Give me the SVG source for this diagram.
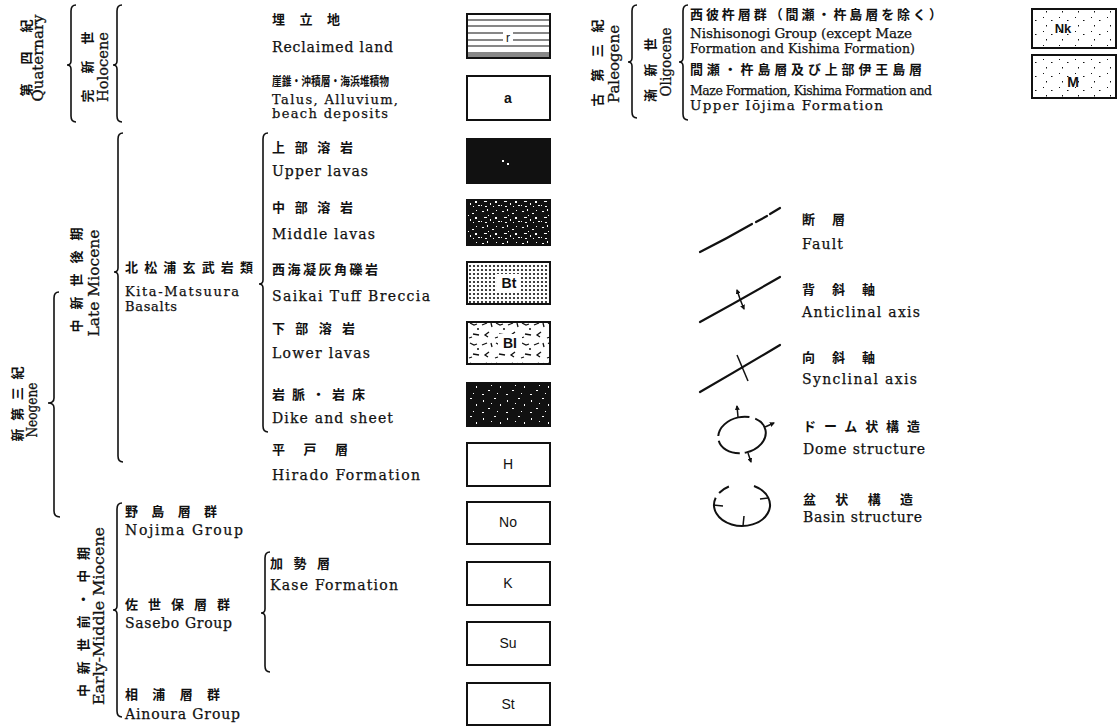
<svg xmlns="http://www.w3.org/2000/svg" width="1120" height="727" viewBox="0 0 1120 727">
<style>
.en{font-family:"DejaVu Serif","Liberation Serif",serif;font-size:14px;fill:#111;stroke:#111;stroke-width:0.25}
.es{font-size:13px}
.er{font-family:"DejaVu Serif","Liberation Serif",serif;font-size:14.5px;fill:#111;stroke:#111;stroke-width:0.3}
.enr{font-family:"DejaVu Serif","Liberation Serif",serif;font-size:13.5px;fill:#111;stroke:#111;stroke-width:0.25}
.jp{font-family:"Noto Sans CJK JP","Noto Sans CJK SC",sans-serif;font-weight:bold;font-size:13px;fill:#111}
.lb{font-family:"Liberation Sans",Arial,sans-serif;font-size:14px;fill:#111;text-anchor:middle}
.lbb{font-family:"Liberation Sans",Arial,sans-serif;font-size:14px;font-weight:bold;fill:#111;text-anchor:middle}
.box{stroke:#111;stroke-width:2}
.br{fill:none;stroke:#111;stroke-width:1.6}
.sym{fill:none;stroke:#111;stroke-width:2.2;stroke-linecap:round}
.tk{fill:none;stroke:#111;stroke-width:1.5}
</style>
<defs>
<marker id="ah" markerWidth="5" markerHeight="5" refX="4" refY="2.5" orient="auto" markerUnits="userSpaceOnUse"><path d="M0,0 L5,2.5 L0,5 z" fill="#111"/></marker>
<pattern id="pMid" width="20" height="16" patternUnits="userSpaceOnUse">
<rect width="20" height="16" fill="#111"/>
<g fill="#fff"><rect x="2" y="3" width="2" height="1"/><rect x="7" y="1" width="1" height="2"/><rect x="12" y="5" width="2" height="1"/><rect x="16" y="2" width="1" height="1"/><rect x="4" y="9" width="3" height="1"/><rect x="10" y="11" width="1" height="2"/><rect x="15" y="9" width="2" height="2"/><rect x="1" y="13" width="1" height="1"/><rect x="8" y="7" width="1" height="1"/><rect x="18" y="13" width="2" height="1"/><rect x="13" y="14" width="1" height="1"/><rect x="5" y="14" width="2" height="1"/></g>
</pattern>
<pattern id="pDike" width="24" height="18" patternUnits="userSpaceOnUse">
<rect width="24" height="18" fill="#111"/>
<g fill="#fff"><rect x="3" y="4" width="1" height="2"/><rect x="14" y="2" width="2" height="1"/><rect x="20" y="8" width="1" height="2"/><rect x="8" y="12" width="2" height="1"/><rect x="17" y="15" width="1" height="1"/><rect x="2" y="16" width="2" height="1"/><rect x="11" y="7" width="1" height="1"/></g>
</pattern>
<pattern id="pDot" width="4" height="4" patternUnits="userSpaceOnUse">
<rect width="4" height="4" fill="#fff"/><circle cx="2" cy="2" r="1.1" fill="#111"/>
</pattern>
<pattern id="pBlot" width="26" height="20" patternUnits="userSpaceOnUse">
<rect width="26" height="20" fill="#fff"/>
<g fill="none" stroke="#111" stroke-width="1.3"><path d="M2,3 l4,2 l3,-1"/><path d="M14,5 l5,-2"/><path d="M21,12 l-4,3 l3,2"/><path d="M5,14 l6,1"/><path d="M23,3 l1,4"/><path d="M9,9 l2,0"/><path d="M1,18 l3,-1"/></g>
</pattern>
<pattern id="pSparse" width="16" height="14" patternUnits="userSpaceOnUse">
<rect width="16" height="14" fill="#fff"/><g fill="#111"><rect x="3" y="3" width="1" height="1"/><rect x="11" y="6" width="1.5" height="1"/><rect x="6" y="11" width="1" height="1.5"/></g>
</pattern>
</defs>
<rect width="1120" height="727" fill="#fff"/>

<g id="period-labels">
<text class="jp" dominant-baseline="central" transform="translate(25,58) rotate(-90)" x="-38.5" textLength="77">第 四 紀</text>
<text class="er" transform="translate(43,58) rotate(-90)" x="-43.5" textLength="87" lengthAdjust="spacingAndGlyphs">Quaternary</text>
<text class="jp" dominant-baseline="central" transform="translate(86,67) rotate(-90)" x="-35.5" textLength="71">完 新 世</text>
<text class="er" transform="translate(108,67) rotate(-90)" x="-35" textLength="70" lengthAdjust="spacingAndGlyphs">Holocene</text>
<text class="jp" dominant-baseline="central" transform="translate(75,280) rotate(-90)" x="-52.5" textLength="105">中 新 世 後 期</text>
<text class="er" transform="translate(99,283) rotate(-90)" x="-53.5" textLength="107" lengthAdjust="spacingAndGlyphs">Late Miocene</text>
<text class="jp" dominant-baseline="central" transform="translate(16,404) rotate(-90)" x="-37.5" textLength="75">新 第 三 紀</text>
<text class="er" transform="translate(37,410) rotate(-90)" x="-27.5" textLength="55" lengthAdjust="spacingAndGlyphs">Neogene</text>
<text class="jp" dominant-baseline="central" transform="translate(82,622) rotate(-90)" x="-75" textLength="150">中新世前・中期</text>
<text class="er" transform="translate(104,616) rotate(-90)" x="-89" textLength="178" lengthAdjust="spacingAndGlyphs">Early-Middle Miocene</text>
<text class="jp" dominant-baseline="central" transform="translate(596,63) rotate(-90)" x="-43.5" textLength="87">古 第 三 紀</text>
<text class="er" transform="translate(619,64) rotate(-90)" x="-39" textLength="78" lengthAdjust="spacingAndGlyphs">Paleogene</text>
<text class="jp" dominant-baseline="central" transform="translate(649,70) rotate(-90)" x="-32" textLength="64">漸 新 世</text>
<text class="er" transform="translate(671,62) rotate(-90)" x="-34.5" textLength="69" lengthAdjust="spacingAndGlyphs">Oligocene</text>
</g>

<g id="connectors">
<path class="br" d="M76,5 Q71,5 71,11 L71,61 Q71,65 67,65 Q71,65 71,69 L71,116 Q71,122 76,122"/>
<path class="br" d="M122,5 Q117,5 117,11 L117,61 Q117,65 113,65 Q117,65 117,69 L117,116 Q117,122 122,122"/>
<path class="br" d="M123,133 Q118,133 118,139 L118,268 Q118,272 114,272 Q118,272 118,276 L118,456 Q118,462 123,462"/>
<path class="br" d="M268,133 Q263,133 263,139 L263,280 Q263,284 259,284 Q263,284 263,288 L263,426 Q263,432 268,432"/>
<path class="br" d="M59,292 Q54,292 54,298 L54,398 Q54,403 48,403 Q54,403 54,408 L54,511 Q54,517 60,517"/>
<path class="br" d="M122,503 Q117,503 117,509 L117,606 Q117,610 113,610 Q117,610 117,614 L117,711 Q117,717 122,717"/>
<path class="br" d="M270,552 Q265,552 265,558 L265,609 Q265,613 261,613 Q265,613 265,617 L265,666 Q265,672 270,672"/>
<path class="br" d="M637,5 Q632,5 632,11 L632,58 Q632,62 628,62 Q632,62 632,66 L632,112 Q632,118 637,118"/>
<path class="br" d="M688,5 Q683,5 683,11 L683,58 Q683,62 679,62 Q683,62 683,66 L683,114 Q683,120 688,120"/>
</g>

<g id="reclaimed">
<text class="jp" x="272" y="24" textLength="68">埋 立 地</text>
<text class="en" x="272" y="52" textLength="121">Reclaimed land</text>
<rect class="box" x="467" y="14" width="83" height="44" fill="#fff"/>
<rect x="468" y="52" width="81" height="5" fill="#888"/>
<g stroke="#111" stroke-width="1.2"><line x1="468" y1="20" x2="549" y2="20"/><line x1="468" y1="26" x2="549" y2="26"/><line x1="468" y1="33" x2="549" y2="33"/><line x1="468" y1="40" x2="549" y2="40"/><line x1="468" y1="46" x2="549" y2="46"/></g>
<rect x="503" y="31" width="10" height="12" fill="#fff"/>
<text class="lb" x="508" y="42" style="font-size:12px">r</text>
</g>

<g id="alluvium">
<text class="jp" x="272" y="86" textLength="117" lengthAdjust="spacingAndGlyphs" style="font-size:12.5px">崖錐・沖積層・海浜堆積物</text>
<text class="en es" x="272" y="104" textLength="126">Talus, Alluvium,</text>
<text class="en es" x="272" y="118" textLength="116">beach deposits</text>
<rect class="box" x="467" y="76" width="83" height="44" fill="#fff"/>
<text class="lbb" x="508" y="103">a</text>
</g>

<g id="upper-lavas">
<text class="jp" x="272" y="152" textLength="81">上 部 溶 岩</text>
<text class="en" x="272" y="176" textLength="96">Upper lavas</text>
<rect class="box" x="467" y="139" width="83" height="44" fill="#111"/>
<rect x="502" y="160" width="2" height="2" fill="#fff"/><rect x="507" y="163" width="2" height="2" fill="#fff"/>
</g>

<g id="middle-lavas">
<text class="jp" x="272" y="212" textLength="81">中 部 溶 岩</text>
<text class="en" x="272" y="239" textLength="103">Middle lavas</text>
<rect class="box" x="467" y="200" width="83" height="45" fill="url(#pMid)"/>
</g>

<g id="kita-matsuura">
<text class="jp" x="125" y="272" textLength="128">北松浦玄武岩類</text>
<text class="en es" x="125" y="296" textLength="114">Kita-Matsuura</text>
<text class="en es" x="125" y="311" textLength="52">Basalts</text>
</g>

<g id="saikai">
<text class="jp" x="272" y="274" textLength="106">西海凝灰角礫岩</text>
<text class="en" x="272" y="301" textLength="158">Saikai Tuff Breccia</text>
<rect class="box" x="467" y="262" width="83" height="42" fill="url(#pDot)"/>
<rect x="497" y="274" width="24" height="17" fill="#fff"/>
<text class="lbb" x="509" y="288">Bt</text>
</g>

<g id="lower-lavas">
<text class="jp" x="272" y="333" textLength="83">下 部 溶 岩</text>
<text class="en" x="272" y="358" textLength="98">Lower lavas</text>
<rect class="box" x="467" y="322" width="83" height="42" fill="url(#pBlot)"/>
<rect x="498" y="334" width="24" height="17" fill="#fff"/>
<text class="lbb" x="510" y="348">BI</text>
</g>

<g id="dike">
<text class="jp" x="272" y="399" textLength="93">岩 脈 ・ 岩 床</text>
<text class="en" x="272" y="423" textLength="121">Dike and sheet</text>
<rect class="box" x="467" y="383" width="83" height="43" fill="url(#pDike)"/>
</g>

<g id="hirado">
<text class="jp" x="272" y="454" textLength="76">平 戸 層</text>
<text class="en" x="272" y="480" textLength="148">Hirado Formation</text>
<rect class="box" x="467" y="443" width="83" height="43" fill="#fff"/>
<text class="lb" x="508" y="469">H</text>
</g>

<g id="nojima">
<text class="jp" x="125" y="516" textLength="92">野 島 層 群</text>
<text class="en" x="125" y="535" textLength="118">Nojima Group</text>
<rect class="box" x="467" y="502" width="83" height="42" fill="#fff"/>
<text class="lb" x="508" y="527">No</text>
</g>

<g id="kase">
<text class="jp" x="270" y="568" textLength="60">加 勢 層</text>
<text class="en" x="270" y="590" textLength="128">Kase Formation</text>
<rect class="box" x="467" y="562" width="83" height="43" fill="#fff"/>
<text class="lb" x="508" y="588">K</text>
</g>

<g id="sasebo">
<text class="jp" x="125" y="609" textLength="105">佐 世 保 層 群</text>
<text class="en" x="125" y="628" textLength="107">Sasebo Group</text>
<rect class="box" x="467" y="622" width="83" height="43" fill="#fff"/>
<text class="lb" x="508" y="648">Su</text>
</g>

<g id="ainoura">
<text class="jp" x="125" y="699" textLength="95">相 浦 層 群</text>
<text class="en" x="125" y="719" textLength="115">Ainoura Group</text>
<rect class="box" x="467" y="683" width="83" height="42" fill="#fff"/>
<text class="lb" x="508" y="709">St</text>
</g>

<g id="nishisonogi">
<text class="jp" x="690" y="19" textLength="252">西彼杵層群（間瀬・杵島層を除く）</text>
<text class="enr" x="690" y="38" textLength="222">Nishisonogi Group (except Maze</text>
<text class="enr" x="690" y="53" textLength="225" style="font-size:12.5px">Formation and Kishima Formation)</text>
<rect class="box" x="1032" y="9" width="84" height="39" fill="url(#pSparse)"/>
<text class="lbb" x="1063" y="33" style="font-size:13px">Nk</text>
</g>

<g id="maze">
<text class="jp" x="690" y="74" textLength="232">間瀬・杵島層及び上部伊王島層</text>
<text class="enr" x="690" y="95" textLength="242" style="font-size:12.5px">Maze Formation, Kishima Formation and</text>
<text class="enr" x="690" y="110" textLength="193">Upper Iōjima Formation</text>
<rect class="box" x="1032" y="55" width="84" height="43" fill="url(#pSparse)"/>
<text class="lbb" x="1073" y="87">M</text>
</g>

<g id="fault">
<path class="sym" d="M700,252 Q726,239 752,224"/>
<path class="sym" d="M756,222 L767,216"/>
<path class="sym" d="M770,214 L780,208"/>
<text class="jp" x="802" y="224" textLength="43">断 層</text>
<text class="en" x="802" y="249" textLength="41">Fault</text>
</g>

<g id="anticline">
<path class="sym" d="M700,322 Q740,300 780,277" stroke-width="2"/>
<path class="tk" d="M740,299 L737,290" marker-end="url(#ah)"/>
<path class="tk" d="M740,299 L744,309" marker-end="url(#ah)"/>
<text class="jp" x="802" y="294" textLength="73">背 斜 軸</text>
<text class="en" x="802" y="317" textLength="118">Anticlinal axis</text>
</g>

<g id="syncline">
<path class="sym" d="M700,392 Q740,369 780,345" stroke-width="2"/>
<path class="tk" d="M737,355 L748,381"/>
<text class="jp" x="802" y="362" textLength="73">向 斜 軸</text>
<text class="en" x="802" y="384" textLength="115">Synclinal axis</text>
</g>

<g id="dome">
<ellipse cx="742" cy="435" rx="24" ry="18" transform="rotate(-12 742 435)" fill="none" stroke="#111" stroke-width="2" stroke-dasharray="34 5 26 5 40 6 30"/>
<path class="tk" d="M738,417 L737,406" marker-end="url(#ah)"/>
<path class="tk" d="M765,427 L774,423" marker-end="url(#ah)"/>
<path class="tk" d="M748,453 L751,462" marker-end="url(#ah)"/>
<text class="jp" x="803" y="431" textLength="117">ドーム状構造</text>
<text class="en" x="803" y="454" textLength="122">Dome structure</text>
</g>

<g id="basin">
<path d="M754,486 A28,21 0 1 1 715.7,497.8" fill="none" stroke="#111" stroke-width="2"/>
<path d="M719.1,493 A28,21 0 0 1 728.9,486.5" fill="none" stroke="#111" stroke-width="2"/>
<path class="tk" d="M713,505 L723,506"/>
<path class="tk" d="M768,498 L760,499"/>
<path class="tk" d="M743,526 L744,516"/>
<text class="jp" x="803" y="504" textLength="110">盆 状 構 造</text>
<text class="en" x="803" y="522" textLength="119">Basin structure</text>
</g>
</svg>
